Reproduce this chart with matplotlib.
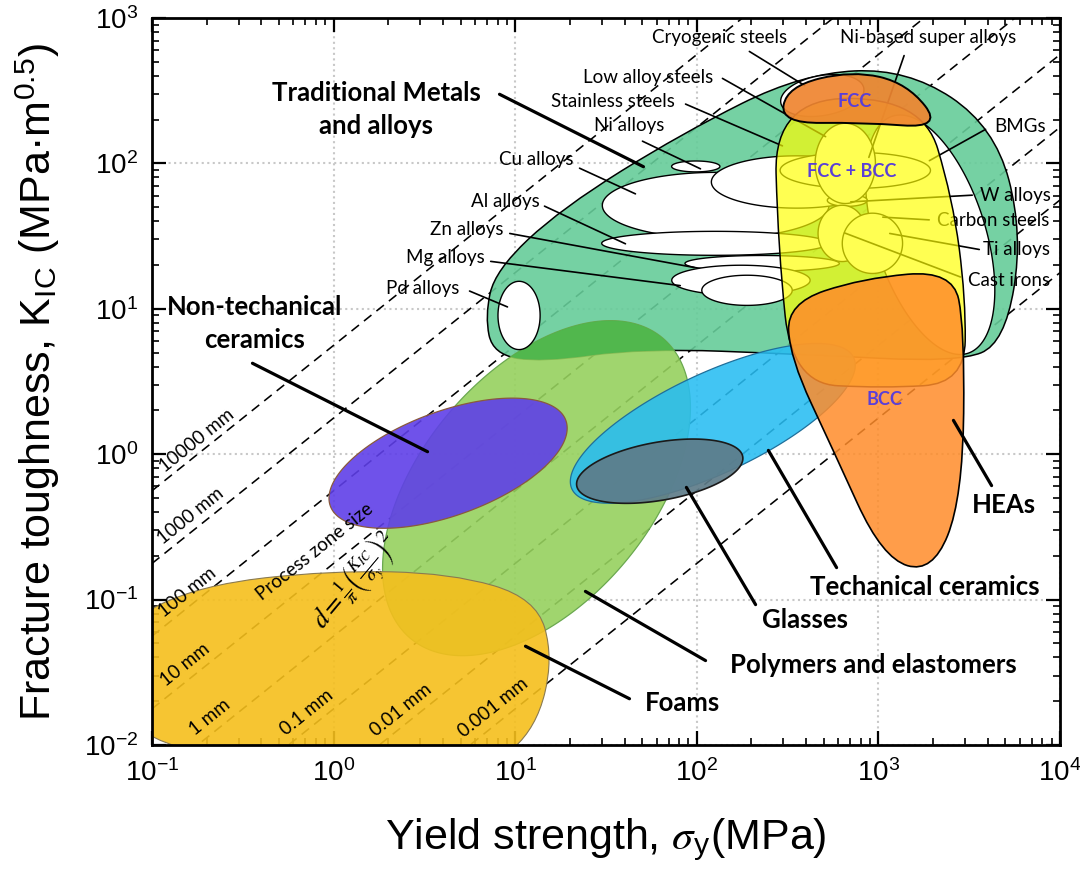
import numpy as np
import matplotlib
matplotlib.use('Agg')
import matplotlib.pyplot as plt
from matplotlib.path import Path
from matplotlib.patches import PathPatch
from matplotlib.colors import to_rgba

plt.rcParams['font.family'] = ['Liberation Sans', 'DejaVu Sans']
plt.rcParams['mathtext.fontset'] = 'stix'

# process zone size guide lines, d = (1/pi)(K/sigma)^2, in mm
zone_mm = [10000, 1000, 100, 10, 1, 0.1, 0.01, 0.001]

# material families drawn as ellipses in log-log space:
# centre yield strength (MPa), centre toughness (MPa m^0.5), semi-axes (decades), tilt (deg)
fam_names = ['Polymers and elastomers', 'Non-techanical ceramics', 'Techanical ceramics', 'Glasses']
fam_sigma = [13.1, 4.27, 122.5, 62.5]
fam_kic = [0.584, 0.867, 1.63, 0.764]
fam_a = [1.08, 0.69, 0.856, 0.464]
fam_b = [0.635, 0.287, 0.276, 0.16]
fam_tilt = [50, 20, 25, 10]

# alloy classes inside the metals envelope
alloy_names = ['Pd', 'Cu', 'Ni', 'Stainless', 'Al', 'Zn', 'Mg', 'Mg (2)', 'BMGs', 'Cryogenic',
               'FCC + BCC', 'W', 'Low alloy', 'Ti', 'Cast irons']
alloy_sigma = [10.5, 127, 98.7, 355, 126, 229, 175, 189, 1927, 491, 746, 674, 657, 632, 927]
alloy_kic = [9.0, 51.4, 95.3, 74.5, 28.2, 20.5, 15.7, 13.4, 32.3, 293, 89.5, 55.7, 100, 33.0, 28.2]
alloy_a = [0.116, 0.624, 0.133, 0.47, 0.624, 0.425, 0.381, 0.249, 0.685, 0.232, 0.414, 0.11, 0.166, 0.133, 0.166]
alloy_b = [0.188, 0.182, 0.030, 0.144, 0.066, 0.044, 0.083, 0.083, 0.304, 0.110, 0.099, 0.033, 0.221, 0.155, 0.166]
alloy_tilt = [0, 0, 0, 0, 0, 0, 0, 0, 107.6, 10, 0, 0, 0, 0, 0]

# free-form envelopes, outline points as log10(sigma), log10(K)
metals_ls = [0.834, 0.890, 1.254, 1.917, 2.580, 3.160, 3.641, 3.796, 3.696, 3.436, 2.580, 1.696, 1.144, 0.878]
metals_lk = [0.949, 1.265, 1.691, 2.206, 2.619, 2.653, 2.254, 1.519, 0.763, 0.632, 0.687, 0.729, 0.632, 0.687]
mix_ls = [2.425, 3.243, 3.409, 3.481, 3.475, 3.022, 2.525, 2.448]
mix_lk = [2.447, 2.447, 1.759, 1.072, 0.488, 0.454, 0.488, 1.416]
fcc_ls = [2.459, 2.497, 2.856, 3.160, 3.354, 2.912]
fcc_lk = [2.275, 2.529, 2.639, 2.550, 2.241, 2.282]
hea_ls = [2.497, 2.912, 3.409, 3.475, 3.464, 3.298, 3.022, 2.746, 2.514]
hea_lk = [1.038, 1.210, 1.265, 0.866, -0.302, -0.818, -0.715, 0.041, 0.660]
foam_ls = [-1.18, -1.18, -0.735, -0.017, 0.646, 1.116, 1.21, 1.116, 0.867]
foam_lk = [-2.09, -1.17, -0.90, -0.80, -0.818, -0.990, -1.402, -1.883, -2.158]

fig = plt.figure(figsize=(10.8, 8.83), dpi=100)
ax = fig.add_axes([0.14074, 0.15629, 0.84074, 0.82333])
ax.set_xscale('log')
ax.set_yscale('log')
# display height of a y-decade relative to an x-decade
R = (0.82333 * 8.83) / (0.84074 * 10.8)


def ellipse_path(sc, kc, a, b, tilt):
    t = np.linspace(0, 2 * np.pi, 241)
    th = np.radians(tilt)
    u, v = a * np.cos(t), b * np.sin(t)
    dx = u * np.cos(th) - v * np.sin(th)
    dy = (u * np.sin(th) + v * np.cos(th)) / R
    return Path(np.column_stack([sc * 10 ** dx, kc * 10 ** dy]), closed=True)


def blob_path(ls, lk):
    p = np.column_stack([ls, lk])
    m = (p + np.roll(p, -1, axis=0)) / 2
    verts = [m[-1]]
    codes = [Path.MOVETO]
    for i in range(len(p)):
        verts += [p[i], m[i]]
        codes += [Path.CURVE3, Path.CURVE3]
    verts.append(m[-1])
    codes.append(Path.CLOSEPOLY)
    return Path(10 ** np.array(verts), codes)


def fill(path, color, alpha, ec, lw, z):
    pp = PathPatch(path, fc=to_rgba(color, alpha), ec=ec, lw=lw, zorder=z)
    ax.add_patch(pp)
    return pp


# guide lines
sig = np.array([0.1, 1e4])
for d in zone_mm:
    ax.plot(sig, sig * np.sqrt(np.pi * d / 1000.0), color='k', lw=1.15,
            dashes=(6, 4), zorder=1.5)

fam_col = ['#96d15e', '#5f3fe8', '#28bdf2', '#5e7c89']
fam_alpha = [0.9, 0.9, 0.88, 0.92]
fam_ec = ['#6aa84f', '#8a5a3c', '#1f6f9a', '#1a1a1a']
fam_z = [2.2, 2.5, 2.6, 2.7]

metals = fill(blob_path(metals_ls, metals_lk), '#66cc99', 0.9, 'k', 1.1, 2)
poly_path = ellipse_path(fam_sigma[0], fam_kic[0], fam_a[0], fam_b[0], fam_tilt[0])
for i in range(len(fam_names)):
    fill(ellipse_path(fam_sigma[i], fam_kic[i], fam_a[i], fam_b[i], fam_tilt[i]),
         fam_col[i], fam_alpha[i], fam_ec[i], 0.9 if i < 3 else 1.2, fam_z[i])
over = fill(poly_path, '#4cb54c', 0.92, 'none', 0, 2.3)
over.set_clip_path(metals)
fill(blob_path(foam_ls, foam_lk), '#f5bf1c', 0.9, '#8a7a50', 0.8, 2.4)

for i in range(len(alloy_names)):
    fill(ellipse_path(alloy_sigma[i], alloy_kic[i], alloy_a[i], alloy_b[i], alloy_tilt[i]),
         'white', 1.0, 'k', 1.0, 4)

fill(blob_path(mix_ls, mix_lk), '#ffff00', 0.68, 'k', 1.1, 6)
fill(blob_path(fcc_ls, fcc_lk), '#ef8530', 0.92, 'k', 1.4, 7)
fill(blob_path(hea_ls, hea_lk), '#ff8c2a', 0.85, 'k', 1.2, 8)

ax.set_xlim(0.1, 1e4)
ax.set_ylim(0.01, 1000)

# labels
lab_font = ['Lato', 'DejaVu Sans']
bold_labels = [
    ('Traditional Metals\nand alloys', (0.2467, 0.8748), (0.380, 0.8968), (0.544, 0.7937)),
    ('Non-techanical\nceramics', (0.1134, 0.5791), (0.1079, 0.5268), (0.3062, 0.4017)),
    ('Techanical ceramics', (0.8513, 0.2173), (0.7555, 0.2407), (0.6773, 0.4085)),
    ('Glasses', (0.7192, 0.1719), (0.6663, 0.1898), (0.5870, 0.3576)),
    ('Polymers and elastomers', (0.7941, 0.1100), (0.6123, 0.1142), (0.4747, 0.2132)),
    ('Foams', (0.5848, 0.0578), (0.5286, 0.0619), (0.4086, 0.1376)),
    ('HEAs', (0.9383, 0.3301), (0.9262, 0.3535), (0.8811, 0.4498)),
]
for txt, pos, p0, p1 in bold_labels:
    ax.text(*pos, txt, transform=ax.transAxes, ha='center', va='center', fontsize=18.5,
            fontweight='bold', family=lab_font, linespacing=1.45, zorder=10)
    ax.annotate('', xy=p1, xytext=p0, xycoords='axes fraction',
                arrowprops=dict(arrowstyle='-', lw=2.3, color='k'), zorder=10)

small_labels = [
    ('Cryogenic steels', (0.6256, 0.9725), (0.6553, 0.9560), (0.7214, 0.9051)),
    ('Ni-based super alloys', (0.8546, 0.9725), (0.8293, 0.9519), (0.7885, 0.8047)),
    ('Low alloy steels', (0.5463, 0.9188), (0.6256, 0.9188), (0.7445, 0.8349)),
    ('Stainless steels', (0.5077, 0.8858), (0.5848, 0.8831), (0.6971, 0.8226)),
    ('Ni alloys', (0.5253, 0.8528), (0.5374, 0.8322), (0.6068, 0.7909)),
    ('Cu alloys', (0.4229, 0.8047), (0.4681, 0.7950), (0.5352, 0.7565)),
    ('Al alloys', (0.3888, 0.7469), (0.4295, 0.7428), (0.5242, 0.6878)),
    ('Zn alloys', (0.3469, 0.7084), (0.3910, 0.7043), (0.6002, 0.6561)),
    ('Mg alloys', (0.3227, 0.6699), (0.3700, 0.6657), (0.5848, 0.6314)),
    ('Pd alloys', (0.2985, 0.6286), (0.3469, 0.6259), (0.3943, 0.6011)),
    ('BMGs', (0.9559, 0.8501), (0.9207, 0.8487), (0.8535, 0.8019)),
    ('W alloys', (0.9504, 0.7565), (0.9064, 0.7565), (0.7665, 0.7469)),
    ('Carbon steels', (0.9262, 0.7221), (0.8590, 0.7221), (0.8018, 0.7263)),
    ('Ti alloys', (0.9526, 0.6809), (0.9141, 0.6809), (0.8095, 0.7043)),
    ('Cast irons', (0.9438, 0.6396), (0.8932, 0.6424), (0.7599, 0.7057)),
]
for txt, pos, p0, p1 in small_labels:
    ax.text(*pos, txt, transform=ax.transAxes, ha='center', va='center', fontsize=13.5,
            family=lab_font, zorder=5)
    ax.annotate('', xy=p1, xytext=p0, xycoords='axes fraction',
                arrowprops=dict(arrowstyle='-', lw=1.2, color='k'), zorder=5)

for txt, pos in [('FCC', (0.7742, 0.8845)), ('FCC + BCC', (0.7709, 0.7882)), ('BCC', (0.8062, 0.4746))]:
    ax.text(*pos, txt, transform=ax.transAxes, ha='center', va='center', fontsize=13,
            fontweight='bold', family=lab_font, color='#5a3fd8', zorder=9)

ang = np.degrees(np.arctan(R))
zone_pos = [(0.0496, 0.4182), (0.0430, 0.3150), (0.0385, 0.2105), (0.0363, 0.1100),
            (0.0639, 0.0385), (0.1707, 0.0454), (0.2742, 0.0481), (0.3756, 0.0509)]
for d, pos in zip(zone_mm, zone_pos):
    ax.text(*pos, f'{d:g} mm', transform=ax.transAxes, ha='center', va='center',
            rotation=ang, rotation_mode='anchor', fontsize=13.5, family=lab_font, zorder=9)
ax.text(0.1795, 0.2655, 'Process zone size', transform=ax.transAxes, ha='center', va='center',
        rotation=ang, rotation_mode='anchor', fontsize=13.5, family=lab_font, zorder=9)
ax.text(0.2247, 0.2242, r'$d=\frac{1}{\pi}\left(\frac{K_{IC}}{\sigma_y}\right)^2$',
        transform=ax.transAxes, ha='center', va='center', rotation=50,
        rotation_mode='anchor', fontsize=19, zorder=9)

# axes styling
ax.grid(True, which='major', ls=':', color='#c8c8c8', lw=1.5)
ax.set_axisbelow(True)
for s in ax.spines.values():
    s.set_linewidth(2)
ax.tick_params(which='both', direction='in', top=True, right=True, labelsize=20, pad=10)
ax.tick_params(which='major', length=10, width=1.6)
ax.tick_params(which='minor', length=5, width=1.2)

ax.set_xlabel(r'Yield strength, $\sigma_{\mathregular{y}}$(MPa)', fontsize=31)
ax.set_ylabel(r'Fracture toughness, K$_{\mathregular{IC}}$ (MPa·m$^{\mathregular{0.5}}$)', fontsize=31)
ax.xaxis.label.set_va('center')
ax.yaxis.label.set_va('center')
ax.xaxis.set_label_coords(0.5, -0.13)
ax.yaxis.set_label_coords(-0.1256, 0.5)

fig.savefig('out.png', dpi=100)
